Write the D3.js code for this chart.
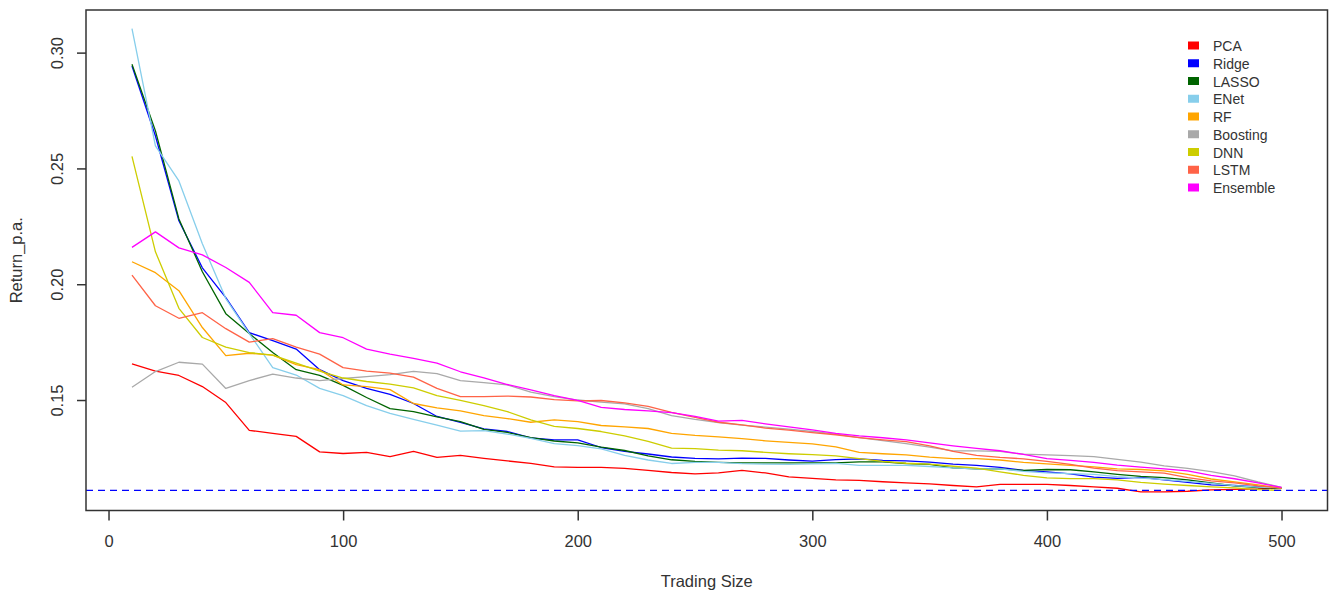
<!DOCTYPE html>
<html>
<head>
<meta charset="utf-8">
<script src="https://cdn.jsdelivr.net/npm/d3@7/dist/d3.min.js"></script>
<style>
  body { margin: 0; background: #fff; }
  svg { display: block; font-family: "Liberation Sans", Arial, sans-serif; }
</style>
</head>
<body>
<div id="chart"></div>
<script>
// Trading size (x) and annual return per model
const tradingSize = [10, 20, 30, 40, 50, 60, 70, 80, 90, 100,
  110, 120, 130, 140, 150, 160, 170, 180, 190, 200,
  210, 220, 230, 240, 250, 260, 270, 280, 290, 300,
  310, 320, 330, 340, 350, 360, 370, 380, 390, 400,
  410, 420, 430, 440, 450, 460, 470, 480, 490, 500];

const pca = [0.1656, 0.1625, 0.1606, 0.1558, 0.1489, 0.1369, 0.1356, 0.1343, 0.1276, 0.1269,
  0.1274, 0.1256, 0.1278, 0.1252, 0.1261, 0.1248, 0.1237, 0.1226, 0.1211, 0.1209,
  0.1209, 0.1205, 0.1196, 0.1187, 0.1181, 0.1185, 0.1196, 0.1185, 0.1168, 0.1162,
  0.1155, 0.1153, 0.1147, 0.1142, 0.1138, 0.1131, 0.1125, 0.1136, 0.1136, 0.1136,
  0.1131, 0.1125, 0.1119, 0.1103, 0.1103, 0.1106, 0.1112, 0.1114, 0.1116, 0.1121];

const ridge = [0.2942, 0.2640, 0.2274, 0.2071, 0.1942, 0.1791, 0.1756, 0.1720, 0.1631, 0.1584,
  0.1550, 0.1524, 0.1485, 0.1429, 0.1403, 0.1375, 0.1364, 0.1336, 0.1328, 0.1328,
  0.1295, 0.1278, 0.1267, 0.1254, 0.1248, 0.1246, 0.1249, 0.1248, 0.1241, 0.1236,
  0.1243, 0.1246, 0.1239, 0.1237, 0.1232, 0.1223, 0.1218, 0.1209, 0.1196, 0.1190,
  0.1181, 0.1167, 0.1162, 0.1166, 0.1155, 0.1144, 0.1134, 0.1131, 0.1125, 0.1121];

const lasso = [0.2950, 0.2662, 0.2282, 0.2054, 0.1873, 0.1787, 0.1705, 0.1631, 0.1606, 0.1563,
  0.1511, 0.1463, 0.1450, 0.1427, 0.1407, 0.1373, 0.1360, 0.1338, 0.1323, 0.1315,
  0.1297, 0.1282, 0.1259, 0.1242, 0.1235, 0.1231, 0.1229, 0.1229, 0.1229, 0.1229,
  0.1229, 0.1233, 0.1233, 0.1226, 0.1222, 0.1207, 0.1203, 0.1203, 0.1196, 0.1200,
  0.1199, 0.1190, 0.1179, 0.1170, 0.1165, 0.1155, 0.1142, 0.1129, 0.1122, 0.1119];

const enet = [0.3104, 0.2597, 0.2446, 0.2175, 0.1938, 0.1787, 0.1640, 0.1608, 0.1550, 0.1519,
  0.1476, 0.1442, 0.1416, 0.1392, 0.1366, 0.1368, 0.1353, 0.1334, 0.1312, 0.1303,
  0.1289, 0.1261, 0.1241, 0.1226, 0.1231, 0.1231, 0.1225, 0.1223, 0.1222, 0.1224,
  0.1226, 0.1218, 0.1218, 0.1218, 0.1213, 0.1207, 0.1203, 0.1203, 0.1192, 0.1185,
  0.1182, 0.1179, 0.1169, 0.1163, 0.1156, 0.1149, 0.1140, 0.1130, 0.1124, 0.1121];

const rf = [0.2097, 0.2050, 0.1972, 0.1813, 0.1692, 0.1702, 0.1694, 0.1653, 0.1631, 0.1565,
  0.1558, 0.1545, 0.1485, 0.1466, 0.1453, 0.1433, 0.1420, 0.1404, 0.1414, 0.1407,
  0.1390, 0.1384, 0.1377, 0.1356, 0.1347, 0.1341, 0.1333, 0.1324, 0.1317, 0.1311,
  0.1298, 0.1274, 0.1268, 0.1263, 0.1253, 0.1247, 0.1247, 0.1241, 0.1231, 0.1224,
  0.1218, 0.1211, 0.1203, 0.1200, 0.1194, 0.1179, 0.1159, 0.1147, 0.1134, 0.1119];

const boosting = [0.1555, 0.1623, 0.1663, 0.1655, 0.1550, 0.1584, 0.1612, 0.1595, 0.1584, 0.1593,
  0.1601, 0.1610, 0.1624, 0.1614, 0.1584, 0.1575, 0.1565, 0.1534, 0.1515, 0.1500,
  0.1491, 0.1483, 0.1463, 0.1433, 0.1416, 0.1403, 0.1392, 0.1383, 0.1374, 0.1364,
  0.1353, 0.1338, 0.1325, 0.1312, 0.1297, 0.1280, 0.1280, 0.1278, 0.1266, 0.1263,
  0.1260, 0.1256, 0.1244, 0.1232, 0.1216, 0.1205, 0.1191, 0.1172, 0.1146, 0.1123];

const dnn = [0.2552, 0.2140, 0.1896, 0.1770, 0.1728, 0.1705, 0.1694, 0.1659, 0.1625, 0.1595,
  0.1580, 0.1569, 0.1552, 0.1519, 0.1498, 0.1476, 0.1450, 0.1414, 0.1386, 0.1377,
  0.1364, 0.1345, 0.1321, 0.1292, 0.1290, 0.1284, 0.1281, 0.1274, 0.1268, 0.1264,
  0.1259, 0.1247, 0.1235, 0.1227, 0.1223, 0.1214, 0.1206, 0.1190, 0.1175, 0.1164,
  0.1161, 0.1161, 0.1155, 0.1144, 0.1137, 0.1131, 0.1125, 0.1121, 0.1113, 0.1110];

const lstm = [0.2039, 0.1907, 0.1853, 0.1877, 0.1808, 0.1750, 0.1765, 0.1728, 0.1698, 0.1640,
  0.1625, 0.1616, 0.1599, 0.1550, 0.1515, 0.1515, 0.1517, 0.1513, 0.1502, 0.1496,
  0.1498, 0.1488, 0.1473, 0.1447, 0.1425, 0.1404, 0.1393, 0.1379, 0.1370, 0.1359,
  0.1350, 0.1338, 0.1328, 0.1320, 0.1302, 0.1278, 0.1261, 0.1252, 0.1246, 0.1235,
  0.1222, 0.1206, 0.1195, 0.1190, 0.1184, 0.1165, 0.1151, 0.1142, 0.1129, 0.1121];

const ensemble = [0.2159, 0.2226, 0.2157, 0.2127, 0.2072, 0.2008, 0.1877, 0.1866, 0.1791, 0.1769,
  0.1720, 0.1698, 0.1680, 0.1659, 0.1622, 0.1596, 0.1567, 0.1544, 0.1519, 0.1498,
  0.1468, 0.1459, 0.1453, 0.1446, 0.1429, 0.1409, 0.1412, 0.1397, 0.1384, 0.1371,
  0.1356, 0.1345, 0.1337, 0.1328, 0.1315, 0.1302, 0.1291, 0.1281, 0.1265, 0.1247,
  0.1239, 0.1231, 0.1219, 0.1210, 0.1203, 0.1194, 0.1175, 0.1160, 0.1142, 0.1123];

const modelNames = ["PCA", "Ridge", "LASSO", "ENet", "RF", "Boosting", "DNN", "LSTM", "Ensemble"];
const modelValues = [pca, ridge, lasso, enet, rf, boosting, dnn, lstm, ensemble];
const modelColors = ["#FF0000", "#0000FF", "#006400", "#87CEEB", "#FFA500",
  "#A9A9A9", "#CDCD00", "#FF6347", "#FF00FF"];

const xTicks = [0, 100, 200, 300, 400, 500];
const yTicks = [0.15, 0.20, 0.25, 0.30];
const benchmark = 0.111; // dashed reference line

const series = modelNames.map((name, i) => ({ name: name, values: modelValues[i], color: modelColors[i] }));

// Plot area
const W = 1331, H = 593;
const margin = { top: 10, right: 3.5, bottom: 82.5, left: 86 };
const plotW = W - margin.left - margin.right;
const plotH = H - margin.top - margin.bottom;

const svg = d3.select("#chart")
  .append("svg")
  .attr("width", W)
  .attr("height", H);

// R style: extend the data range by 4% on each side
const xExt = d3.extent(tradingSize);
const xPad = (xExt[1] - xExt[0]) * 0.04;
const allVals = modelValues.flat();
const yExt = d3.extent(allVals);
const yPad = (yExt[1] - yExt[0]) * 0.04;

const x = d3.scaleLinear()
  .domain([xExt[0] - xPad, xExt[1] + xPad])
  .range([margin.left, margin.left + plotW]);

const y = d3.scaleLinear()
  .domain([yExt[0] - yPad, yExt[1] + yPad])
  .range([margin.top + plotH, margin.top]);

// Lines
const line = d3.line()
  .x((d, i) => x(tradingSize[i]))
  .y(d => y(d));

svg.append("g")
  .selectAll("path")
  .data(series)
  .enter()
  .append("path")
  .attr("d", d => line(d.values))
  .attr("fill", "none")
  .attr("stroke", d => d.color)
  .attr("stroke-width", 1.3)
  .attr("stroke-linejoin", "round");

// Dashed benchmark line
svg.append("line")
  .attr("x1", margin.left)
  .attr("x2", margin.left + plotW)
  .attr("y1", y(benchmark))
  .attr("y2", y(benchmark))
  .attr("stroke", "#0000FF")
  .attr("stroke-width", 1.3)
  .attr("stroke-dasharray", "7,5");

// Box
svg.append("rect")
  .attr("x", margin.left)
  .attr("y", margin.top)
  .attr("width", plotW)
  .attr("height", plotH)
  .attr("fill", "none")
  .attr("stroke", "#333")
  .attr("stroke-width", 1.5);

// X axis
const xAxis = svg.append("g")
  .attr("transform", `translate(0,${margin.top + plotH})`)
  .call(d3.axisBottom(x).tickValues(xTicks).tickSize(10).tickPadding(14.5).tickFormat(d3.format("d")));
xAxis.select(".domain").remove();
xAxis.selectAll("line").attr("stroke", "#333").attr("stroke-width", 1.5);
xAxis.selectAll("text").attr("font-size", 16.5).attr("fill", "#333")
  .attr("font-family", "'Liberation Sans', Arial, sans-serif");

// Y axis with rotated labels
const yAxis = svg.append("g")
  .attr("transform", `translate(${margin.left},0)`)
  .call(d3.axisLeft(y).tickValues(yTicks).tickSize(9).tickFormat(d3.format(".2f")));
yAxis.select(".domain").remove();
yAxis.selectAll("line").attr("stroke", "#333").attr("stroke-width", 1.5);
yAxis.selectAll("text")
  .attr("x", null)
  .attr("dy", null)
  .attr("transform", "translate(-23,0) rotate(-90)")
  .attr("text-anchor", "middle")
  .attr("font-size", 16.5)
  .attr("fill", "#333")
  .attr("font-family", "'Liberation Sans', Arial, sans-serif");

// Axis titles
svg.append("text")
  .attr("x", margin.left + plotW / 2)
  .attr("y", 586.5)
  .attr("text-anchor", "middle")
  .attr("font-size", 16.5)
  .attr("fill", "#333")
  .text("Trading Size");

svg.append("text")
  .attr("transform", `translate(22,${margin.top + plotH / 2}) rotate(-90)`)
  .attr("text-anchor", "middle")
  .attr("font-size", 16.5)
  .attr("fill", "#333")
  .text("Return_p.a.");

// Legend
const legend = svg.append("g")
  .selectAll("g")
  .data(series)
  .enter()
  .append("g")
  .attr("transform", (d, i) => `translate(1188,${46 + i * 17.75})`);

legend.append("rect")
  .attr("x", 0)
  .attr("y", -4.5)
  .attr("width", 11)
  .attr("height", 8)
  .attr("fill", d => d.color);

legend.append("text")
  .attr("x", 25)
  .attr("y", 5)
  .attr("font-size", 14)
  .attr("fill", "#333")
  .text(d => d.name);
</script>
</body>
</html>
